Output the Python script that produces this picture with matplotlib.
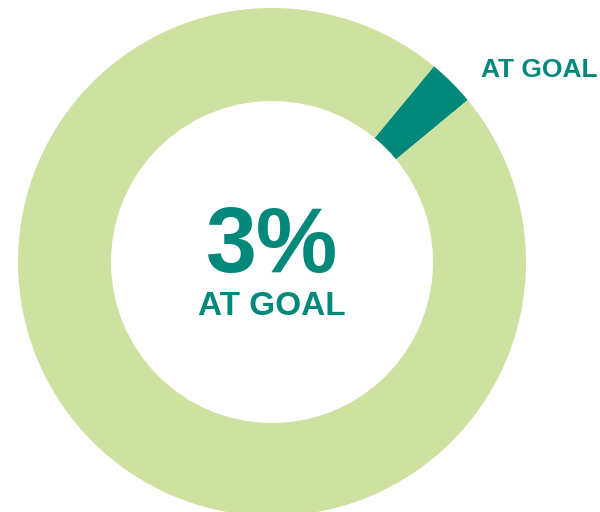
import matplotlib.pyplot as plt

labels = ['AT GOAL', 'NOT AT GOAL']
values = [3, 97]
colors = ['#00897a', '#cde2a0']
center_value = '3%'
center_label = 'AT GOAL'

fig = plt.figure(figsize=(6, 5.12), dpi=100)
ax = fig.add_axes([0, 0, 1, 1])

ax.pie(values, colors=colors, startangle=39.6, counterclock=True,
       center=(272, 250), radius=254,
       wedgeprops=dict(width=254 - 161, linewidth=0), frame=True)
ax.set_xlim(0, 600)
ax.set_ylim(0, 512)
ax.set_aspect('equal')
ax.axis('off')

fnt = ['Liberation Sans', 'DejaVu Sans']
ax.text(272, 240, center_value, ha='center', va='baseline', fontsize=66,
        fontweight='bold', color=colors[0], family=fnt)
ax.text(272, 197, center_label, ha='center', va='baseline', fontsize=24,
        fontweight='bold', color=colors[0], family=fnt)
ax.text(598, 435, labels[0], ha='right', va='baseline', fontsize=19,
        fontweight='bold', color=colors[0], family=fnt)

fig.savefig('out.png', dpi=100)
